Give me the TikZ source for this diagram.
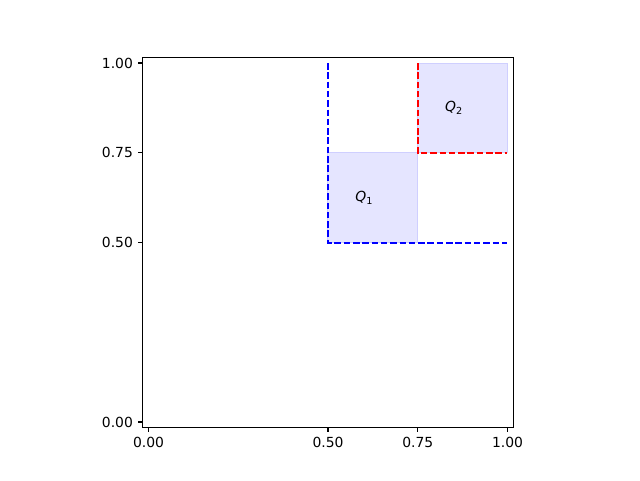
\documentclass[tikz,border=0pt]{standalone}
\usepackage{fontspec}
\setmainfont{DejaVu Sans}
\usepackage{tikz}

\definecolor{qfill}{RGB}{229,229,255}
\definecolor{qedge}{RGB}{207,207,255}
\definecolor{mblue}{RGB}{0,0,255}
\definecolor{mred}{RGB}{255,0,0}

\newcommand{\qlab}[1]{\textit{Q}\raisebox{-0.35ex}{\fontsize{9.7}{10}\selectfont #1}}

\begin{document}
\begin{tikzpicture}[x=359pt,y=359pt,
    every node/.style={font=\fontsize{13.9}{16}\selectfont, inner sep=0pt},
    square/.style={fill=qfill, draw=qedge, line width=1pt},
    bound/.style={line width=2pt, dash pattern=on 6.5pt off 2.8pt},
    tick/.style={line width=1.1pt}]
  \useasboundingbox (-0.4136,-0.1616) rectangle (1.3691,1.1755);

  % shaded squares
  \draw[square] (0.5,0.5) rectangle (0.75,0.75);
  \draw[square] (0.75,0.75) rectangle (1,1);

  % dashed boundaries
  \coordinate (b0) at (0.5,1);
  \coordinate (b1) at (0.5,0.5);
  \coordinate (b2) at (1,0.5);
  \coordinate (r0) at (0.75,1);
  \coordinate (r1) at (0.75,0.75);
  \coordinate (r2) at (1,0.75);
  \draw[bound, mblue] (b0) -- (b1) -- (b2);
  \draw[bound, mred]  (r0) -- (r1) -- (r2);

  \node (Q1) at (0.6,0.625)   {\qlab{1}};
  \node (Q2) at (0.85,0.875)  {\qlab{2}};

  % axes frame
  \draw[line width=1.1pt] (-0.0155,-0.0155) rectangle (1.0155,1.0155);

  % ticks
  \foreach \v/\t in {0/0.00, 0.5/0.50, 0.75/0.75, 1/1.00} {
    \draw[tick] (\v,-0.0155) -- ++(0,-4.9pt);
    \node[anchor=north] (xt\t) at (\v,-0.0155-0.0273) {\t};
    \draw[tick] (-0.0155,\v) -- ++(-4.9pt,0);
    \node[anchor=east] (yt\t) at (-0.0155-0.0273,\v) {\t};
  }
\end{tikzpicture}
\end{document}
